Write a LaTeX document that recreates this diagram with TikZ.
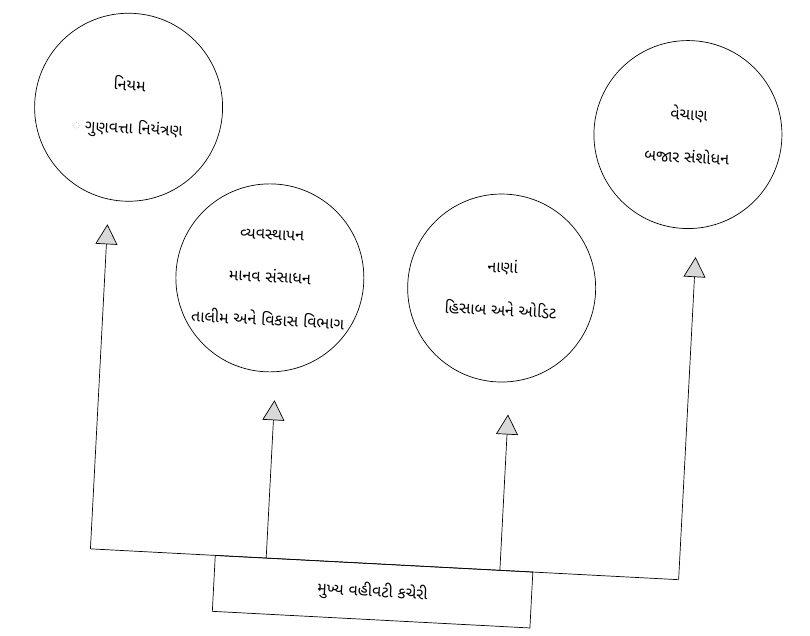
\documentclass[tikz,border=0pt]{standalone}
\usepackage{fontspec}
\newfontfamily\guj[Script=Gujarati]{Noto Sans Gujarati UI}
\usetikzlibrary{arrows.meta}
\tikzset{
  unit/.style={circle, draw=black, line width=0.7pt, minimum size=188pt, inner sep=0pt,
    align=center, font=\guj\fontsize{16}{43}\selectfont},
  rootbox/.style={rectangle, draw=black, line width=0.7pt, minimum width=318pt,
    minimum height=56pt, inner sep=0pt, font=\guj\fontsize{16}{20}\selectfont},
  link/.style={draw=black, line width=0.7pt},
  arr/.style={link, -{Triangle[length=20pt,width=22pt,fill=gray!30,line width=0.7pt]}}
}
\begin{document}
\begin{tikzpicture}[x=1pt,y=-1pt]
\useasboundingbox (0,0) rectangle (810,635);
\begin{scope}[rotate around={-3:(405,317)}, transform shape]
  % circles
  \node[unit] (c1) at (118,122) {નિયમ\\{\color{gray!60}◌} ગુણવત્તા નિયંત્રણ};
  \node[unit] (c2) at (268,285) {વ્યવસ્થાપન\\માનવ સંસાધન\\તાલીમ અને વિકાસ વિભાગ};
  \node[unit] (c3) at (500,283) {નાણાં\\હિસાબ અને ઓડિટ};
  \node[unit] (c4) at (678,120) {વેચાણ\\બજાર સંશોધન};
  % root box
  \node[rootbox] (root) at (387,593) {મુખ્ય વહીવટી કચેરી};
  % bus junctions and arrow tips
  \coordinate (b1) at (103,565);
  \coordinate (b2) at (279,565);
  \coordinate (b3) at (513,565);
  \coordinate (b4) at (692,565);
  \coordinate (t1) at (103,240);
  \coordinate (t2) at (279,407);
  \coordinate (t3) at (513,409);
  \coordinate (t4) at (692,242);
  \draw[link] (b1) -- (b4);
  \draw[arr] (b1) -- (t1);
  \draw[arr] (b2) -- (t2);
  \draw[arr] (b3) -- (t3);
  \draw[arr] (b4) -- (t4);
\end{scope}
\end{tikzpicture}
\end{document}
